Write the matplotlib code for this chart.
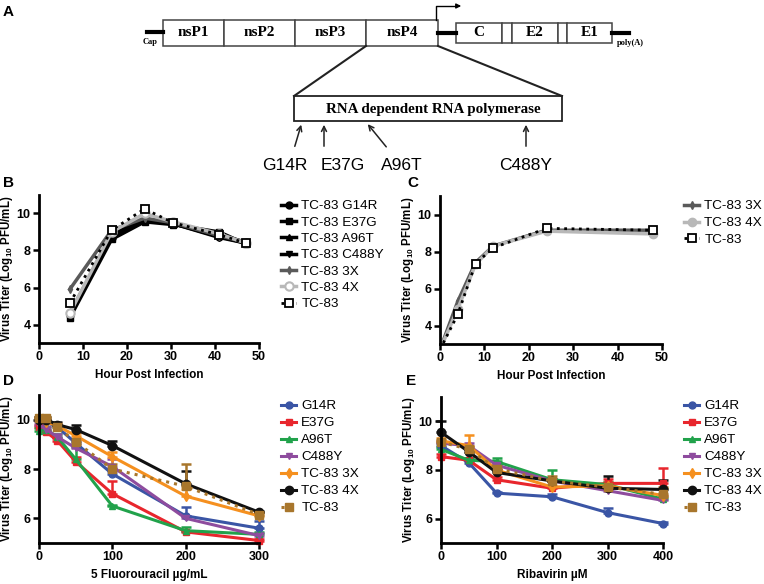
import matplotlib
matplotlib.use("Agg")
import matplotlib.pyplot as plt
from matplotlib.patches import Rectangle
import numpy as np

plt.rcParams['font.family'] = ['Liberation Sans', 'DejaVu Sans']
plt.rcParams['mathtext.fontset'] = 'custom'
plt.rcParams['mathtext.rm'] = 'Liberation Sans'
plt.rcParams['mathtext.bf'] = 'Liberation Sans:bold'

# ---- data ----
# panel B: growth curves, hours post infection
horas_b = [7, 16.5, 24, 30.5, 41, 47]
b_g14r = [4.5, 8.7, 9.6, 9.45, 8.75, 8.4]
b_e37g = [4.35, 8.6, 9.55, 9.4, 9.0, 8.35]
b_a96t = [4.6, 8.8, 9.65, 9.5, 8.85, 8.45]
b_c488y = [4.5, 8.9, 9.7, 9.45, 8.7, 8.4]
b_3x = [5.9, 9.1, 9.75, 9.5, 8.8, 8.45]
b_4x = [4.6, 9.0, 10.0, 9.55, 8.9, 8.4]
b_tc83 = [5.15, 9.1, 10.25, 9.5, 8.85, 8.4]

# panel C
horas_c = [0, 4, 8, 12, 24, 48]
c_3x = [2.7, 5.3, 7.4, 8.3, 9.15, 9.15]
c_4x = [2.7, 4.9, 7.3, 8.3, 9.1, 8.95]
c_tc83 = [2.7, 4.6, 7.35, 8.2, 9.25, 9.15]

# panel D: 5 fluorouracil
dosis_d = [0, 10, 25, 50, 100, 200, 300]
d_vals = {
    'G14R': [10.0, 9.9, 9.7, 9.05, 7.8, 6.1, 5.6],
    'E37G': [9.7, 9.5, 9.15, 8.3, 7.0, 5.45, 5.1],
    'A96T': [9.55, 9.6, 9.3, 8.4, 6.5, 5.5, 5.35],
    'C488Y': [9.8, 9.6, 9.3, 8.85, 8.1, 6.0, 5.3],
    'TC-83 3X': [10.0, 9.9, 9.75, 9.35, 8.5, 6.9, 6.1],
    'TC-83 4X': [10.0, 10.0, 9.8, 9.6, 8.95, 7.4, 6.25],
    'TC-83': [10.05, 10.05, 9.7, 9.1, 8.0, 7.3, 6.15],
}
d_err = {
    'G14R': [0.1, 0.1, 0.1, 0.1, 0.1, 0.35, 0.3],
    'E37G': [0.1, 0.1, 0.1, 0.2, 0.5, 0.05, 0.05],
    'A96T': [0.1, 0.1, 0.1, 0.5, 0.05, 0.15, 0.1],
    'C488Y': [0.1, 0.1, 0.1, 0.1, 0.3, 0.1, 0.1],
    'TC-83 3X': [0.1, 0.1, 0.1, 0.1, 0.2, 0.3, 0.1],
    'TC-83 4X': [0.1, 0.1, 0.1, 0.2, 0.2, 0.5, 0.05],
    'TC-83': [0.05, 0.05, 0.1, 0.1, 0.2, 0.9, 0.1],
}

# panel E: ribavirin
dosis_e = [0, 50, 100, 200, 300, 400]
e_vals = {
    'G14R': [9.0, 8.3, 7.05, 6.9, 6.25, 5.8],
    'E37G': [8.55, 8.4, 7.6, 7.25, 7.45, 7.45],
    'A96T': [8.85, 8.4, 8.35, 7.6, 7.4, 6.8],
    'C488Y': [9.1, 9.0, 8.2, 7.55, 7.15, 6.75],
    'TC-83 3X': [9.2, 9.0, 8.0, 7.3, 7.35, 6.95],
    'TC-83 4X': [9.55, 8.75, 7.9, 7.55, 7.25, 7.2],
    'TC-83': [9.15, 8.85, 8.05, 7.55, 7.3, 7.0],
}
e_err = {
    'G14R': [0.1, 0.05, 0.05, 0.1, 0.2, 0.05],
    'E37G': [0.1, 0.1, 0.1, 0.1, 0.2, 0.65],
    'A96T': [0.1, 0.1, 0.15, 0.4, 0.1, 0.1],
    'C488Y': [0.1, 0.1, 0.1, 0.1, 0.1, 0.2],
    'TC-83 3X': [0.1, 0.45, 0.1, 0.3, 0.1, 0.3],
    'TC-83 4X': [0.45, 0.1, 0.1, 0.1, 0.5, 0.4],
    'TC-83': [0.1, 0.1, 0.1, 0.2, 0.2, 0.3],
}

colores = {'G14R': '#3a55a5', 'E37G': '#e8262d', 'A96T': '#21a24b', 'C488Y': '#8e4c9e',
           'TC-83 3X': '#f5901f', 'TC-83 4X': '#111111', 'TC-83': '#a8762c'}
marcas = {'G14R': 'o', 'E37G': 's', 'A96T': '^', 'C488Y': 'v',
          'TC-83 3X': 'd', 'TC-83 4X': 'o', 'TC-83': 's'}

W, H = 764, 584
fig = plt.figure(figsize=(W / 100, H / 100), dpi=100)


def ejes(l, t, r, b):
    return fig.add_axes([l / W, 1 - b / H, (r - l) / W, (b - t) / H])


# ---- panel A diagram (pixel coords) ----
fondo = fig.add_axes([0, 0, 1, 1], zorder=-1)
fondo.set_xlim(0, W)
fondo.set_ylim(H, 0)
fondo.axis('off')

serif = ['Liberation Serif', 'DejaVu Serif']
gris = '#444444'
# cap and poly(A) tails
fondo.plot([147, 163], [32, 32], color='k', lw=3)
fondo.plot([438, 456], [33, 33], color='k', lw=3)
fondo.plot([612, 629], [33, 33], color='k', lw=3)
fondo.text(150, 42, 'Cap', fontsize=6, fontweight='bold', family=serif, ha='center', va='center')
fondo.text(630, 43, 'poly(A)', fontsize=6, fontweight='bold', family=serif, ha='center', va='center')

cortes = [163, 224, 295, 366, 438]
nombres = ['nsP1', 'nsP2', 'nsP3', 'nsP4']
for i in range(4):
    fondo.add_patch(Rectangle((cortes[i], 20), cortes[i + 1] - cortes[i], 26,
                              facecolor='white', edgecolor=gris, lw=1.1))
    fondo.text((cortes[i] + cortes[i + 1]) / 2, 33, nombres[i], fontsize=11,
               fontweight='bold', family=serif, ha='center', va='center')

estruct = [(456, 502, 'C'), (502, 512, ''), (512, 558, 'E2'), (558, 567, ''), (567, 612, 'E1')]
for x0, x1, nom in estruct:
    fondo.add_patch(Rectangle((x0, 23), x1 - x0, 20, facecolor='white', edgecolor=gris, lw=1.1))
    if nom:
        fondo.text((x0 + x1) / 2, 33, nom, fontsize=11, fontweight='bold',
                   family=serif, ha='center', va='center')

# subgenomic promoter arrow
fondo.plot([436, 436, 455], [20, 6, 6], color='k', lw=1)
fondo.annotate('', xy=(464, 6), xytext=(454, 6),
               arrowprops=dict(arrowstyle='-|>', color='k', lw=1, mutation_scale=7))

# zoom lines and RdRp box
fondo.plot([366, 294], [46, 96], color='#222222', lw=1.5)
fondo.plot([438, 562], [46, 96], color='#222222', lw=1.5)
fondo.add_patch(Rectangle((294, 96), 268, 25, facecolor='white', edgecolor='#222222', lw=1.3))
fondo.text(433, 110, 'RNA dependent RNA polymerase', fontsize=10.8, fontweight='bold',
           family=serif, ha='center', va='center')

mutaciones = ['G14R', 'E37G', 'A96T', 'C488Y']
cola_x = [294, 324, 388, 526]
punta_x = [302, 324, 366, 526]
etiqueta_x = [285, 343, 402, 526]
for m, cx, px, ex in zip(mutaciones, cola_x, punta_x, etiqueta_x):
    fondo.annotate('', xy=(px, 122), xytext=(cx, 149),
                   arrowprops=dict(arrowstyle='->', color='#222222', lw=1.1, mutation_scale=9))
    fondo.text(ex, 165, m, fontsize=12.5, ha='center', va='center')

for letra, x, y in [('A', 8, 12), ('B', 8, 183), ('C', 413, 183), ('D', 8, 381), ('E', 411, 381)]:
    fondo.text(x, y, letra, fontsize=11, fontweight='bold', ha='center', va='center')


def estilo(ax, xlim, xticks, ylim, yticks, xlabel):
    ax.set_xlim(*xlim)
    ax.set_ylim(*ylim)
    ax.set_xticks(xticks)
    ax.set_yticks(yticks)
    for s in ['top', 'right']:
        ax.spines[s].set_visible(False)
    for s in ['left', 'bottom']:
        ax.spines[s].set_linewidth(2)
    ax.tick_params(width=1.8, length=4, labelsize=9, pad=2)
    for t in ax.get_xticklabels() + ax.get_yticklabels():
        t.set_fontweight('bold')
    ax.set_xlabel(xlabel, fontsize=8.5, fontweight='bold', labelpad=4)
    ax.set_ylabel(r'Virus Titer (Log$_{\mathbf{10}}$ PFU/mL)', fontsize=8.3, fontweight='bold')
    ancho = ax.get_position().width * W
    ax.yaxis.set_label_coords(-24 / ancho, 0.5)


def leyenda(ax, x, y, espacio, handles=None, labels=None):
    kw = dict(loc='upper left', bbox_to_anchor=(x / W, 1 - y / H),
              bbox_transform=fig.transFigure, frameon=False, fontsize=9.7,
              handlelength=1.15, handletextpad=0.35, labelspacing=espacio,
              borderpad=0, borderaxespad=0)
    if handles is None:
        ax.legend(**kw)
    else:
        ax.legend(handles, labels, **kw)


# ---- panel B ----
ax = ejes(39, 195, 259, 343)
ax.plot(horas_b, b_g14r, color='k', lw=2.5, marker='o', ms=5, label='TC-83 G14R')
ax.plot(horas_b, b_e37g, color='k', lw=2.5, marker='s', ms=5, label='TC-83 E37G')
ax.plot(horas_b, b_a96t, color='k', lw=2.5, marker='^', ms=5, label='TC-83 A96T')
ax.plot(horas_b, b_c488y, color='k', lw=2.5, marker='v', ms=5, label='TC-83 C488Y')
ax.plot(horas_b, b_3x, color='#5a5a5a', lw=2.5, marker='d', ms=4, label='TC-83 3X')
ax.plot(horas_b, b_4x, color='#b8b8b8', lw=2.5, marker='o', ms=6, mfc='white',
        mec='#b8b8b8', mew=1.5, label='TC-83 4X')
ax.plot(horas_b, b_tc83, color='k', lw=2, ls=':', marker='s', ms=6, mfc='white',
        mec='k', mew=1.3, label='TC-83')
estilo(ax, (0, 50), [0, 10, 20, 30, 40, 50], (3, 11), [4, 6, 8, 10], 'Hour Post Infection')
leyenda(ax, 281, 200, 0.29)

# ---- panel C ----
ax = ejes(440, 196, 662, 344)
ax.plot(horas_c, c_3x, color='#5a5a5a', lw=2.5, marker='d', ms=4, label='TC-83 3X')
ax.plot(horas_c, c_4x, color='#b8b8b8', lw=2.5, marker='o', ms=6, label='TC-83 4X')
ax.plot(horas_c, c_tc83, color='k', lw=2, ls=':', marker='s', ms=6, mfc='white',
        mec='k', mew=1.3, label='TC-83')
estilo(ax, (0, 50), [0, 10, 20, 30, 40, 50], (3, 11), [4, 6, 8, 10], 'Hour Post Infection')
leyenda(ax, 684, 200, 0.33)


def dosis_panel(ax, xs, vals, errs):
    lineas = []
    for nom in vals:
        y = np.array(vals[nom])
        e = np.array(errs[nom])
        ls = ':' if nom == 'TC-83' else '-'
        c = ax.errorbar(xs, y, yerr=[np.zeros_like(e), e], color=colores[nom], lw=2.2, ls=ls,
                        marker=marcas[nom], ms=6 if nom in ('TC-83 4X', 'TC-83') else 5,
                        capsize=3.5, capthick=1.8, elinewidth=1.8, clip_on=False)
        lineas.append(c[0])
    return lineas, list(vals.keys())


# ---- panel D ----
ax = ejes(39, 395, 259, 543)
h, l = dosis_panel(ax, dosis_d, d_vals, d_err)
estilo(ax, (0, 300), [0, 100, 200, 300], (5, 11), [6, 8, 10], '5 Fluorouracil µg/mL')
leyenda(ax, 281, 400, 0.34, h, l)

# ---- panel E ----
ax = ejes(441, 397, 663, 543)
h, l = dosis_panel(ax, dosis_e, e_vals, e_err)
estilo(ax, (0, 400), [0, 100, 200, 300, 400], (5, 11), [6, 8, 10], 'Ribavirin µM')
leyenda(ax, 684, 400, 0.34, h, l)

fig.savefig('out.png', dpi=100)
